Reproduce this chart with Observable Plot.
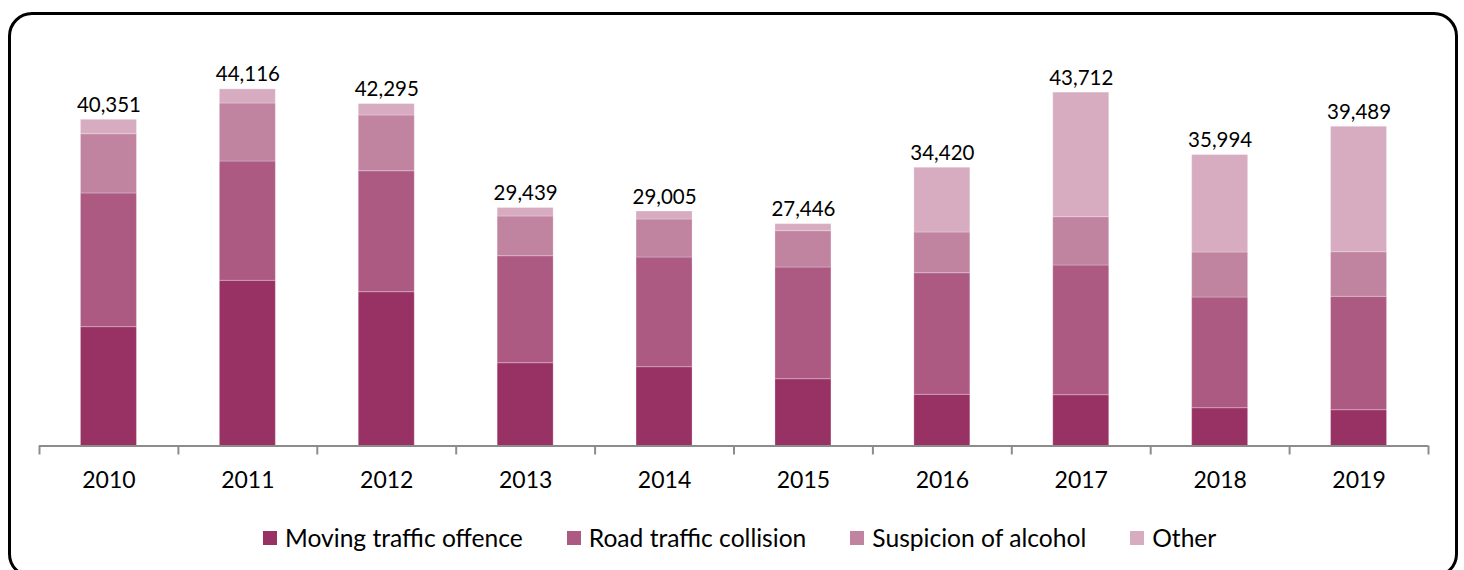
<!DOCTYPE html>
<html>
<head>
<meta charset="utf-8">
<script src="https://cdn.jsdelivr.net/npm/d3@7"></script>
<script src="https://cdn.jsdelivr.net/npm/@observablehq/plot@0.6"></script>
<style>
  html, body { margin: 0; padding: 0; background: #fff; width: 1464px; height: 570px; overflow: hidden; }
  #frame { position: absolute; left: 8px; top: 11.5px; width: 1450px; height: 566px; box-sizing: border-box;
           border: 3px solid #000; border-radius: 24px; }
  #chart { position: absolute; left: 0; top: 0; }
  #legend { position: absolute; left: 263px; top: 523px; display: flex; gap: 44px; align-items: center;
            font-family: Lato, sans-serif; font-size: 24.6px; line-height: 30px; color: #000; white-space: nowrap; }
  #legend .item { display: flex; align-items: center; }
  #legend .sw { width: 14px; height: 14px; margin-right: 8px; display: inline-block; }
</style>
</head>
<body>
<div id="frame"></div>
<div id="chart"></div>
<div id="legend"></div>
<script>
const years = ["2010", "2011", "2012", "2013", "2014", "2015", "2016", "2017", "2018", "2019"];
const seriesNames = ["Moving traffic offence", "Road traffic collision", "Suspicion of alcohol", "Other"];
const moving  = [14700, 20435, 19025, 10242, 9748, 8263, 6333, 6284, 4676, 4428];
const road    = [16540, 14757, 14968, 13236, 13570, 13817, 15042, 16044, 13694, 14028];
const alcohol = [7330, 7175, 6890, 4911, 4701, 4490, 5035, 5975, 5567, 5517];
const other   = [1781, 1749, 1412, 1050, 986, 876, 8010, 15409, 12057, 15516];
const totals  = [40351, 44116, 42295, 29439, 29005, 27446, 34420, 43712, 35994, 39489];
const colors  = ["#983264", "#AD5A83", "#C083A0", "#D7ACC1"];

const seriesValues = [moving, road, alcohol, other];
const rows = [];
seriesNames.forEach((name, s) => {
  years.forEach((yr, i) => rows.push({year: yr, series: name, value: seriesValues[s][i]}));
});
const totalRows = years.map((yr, i) => ({year: yr, total: totals[i]}));

const W = 1464, H = 500;
const left = 39, right = 1428;
const step = (right - left) / years.length;
const fmt = d3.format(",");

const chart = Plot.plot({
  width: W,
  height: H,
  marginLeft: left,
  marginRight: W - right,
  marginTop: 41.3,
  marginBottom: 54.5,
  style: {fontFamily: "Lato, sans-serif", color: "#000", background: "transparent", overflow: "visible"},
  x: {domain: years, paddingInner: 0.597, paddingOuter: 0.2985, align: 0.5, round: false, label: null},
  y: {domain: [0, 50000], axis: null},
  color: {domain: seriesNames, range: colors},
  marks: [
    Plot.barY(rows, {x: "year", y: "value", fill: "series", order: seriesNames, stroke: "#fff", strokeOpacity: 0.25, strokeWidth: 1}),
    Plot.ruleY([0], {stroke: "#8c8c8c", strokeWidth: 2}),
    Plot.ruleX(years, {x: d => d, dx: -step / 2, y1: 0, y2: 0, insetBottom: -9, stroke: "#8c8c8c", strokeWidth: 2}),
    Plot.ruleX([years[years.length - 1]], {x: d => d, dx: step / 2, y1: 0, y2: 0, insetBottom: -9, stroke: "#8c8c8c", strokeWidth: 2}),
    Plot.axisX({tickSize: 0, tickPadding: 26, fontSize: 23, label: null}),
    Plot.text(totalRows, {x: "year", y: "total", text: d => fmt(d.total), lineAnchor: "bottom", dy: -8, fontSize: 20.5, fill: "#000"})
  ]
});
document.getElementById("chart").appendChild(chart);

const legend = document.getElementById("legend");
seriesNames.forEach((name, i) => {
  const item = document.createElement("div");
  item.className = "item";
  const sw = document.createElement("span");
  sw.className = "sw";
  sw.style.background = colors[i];
  const label = document.createElement("span");
  label.textContent = name;
  item.appendChild(sw);
  item.appendChild(label);
  legend.appendChild(item);
});
</script>
</body>
</html>
